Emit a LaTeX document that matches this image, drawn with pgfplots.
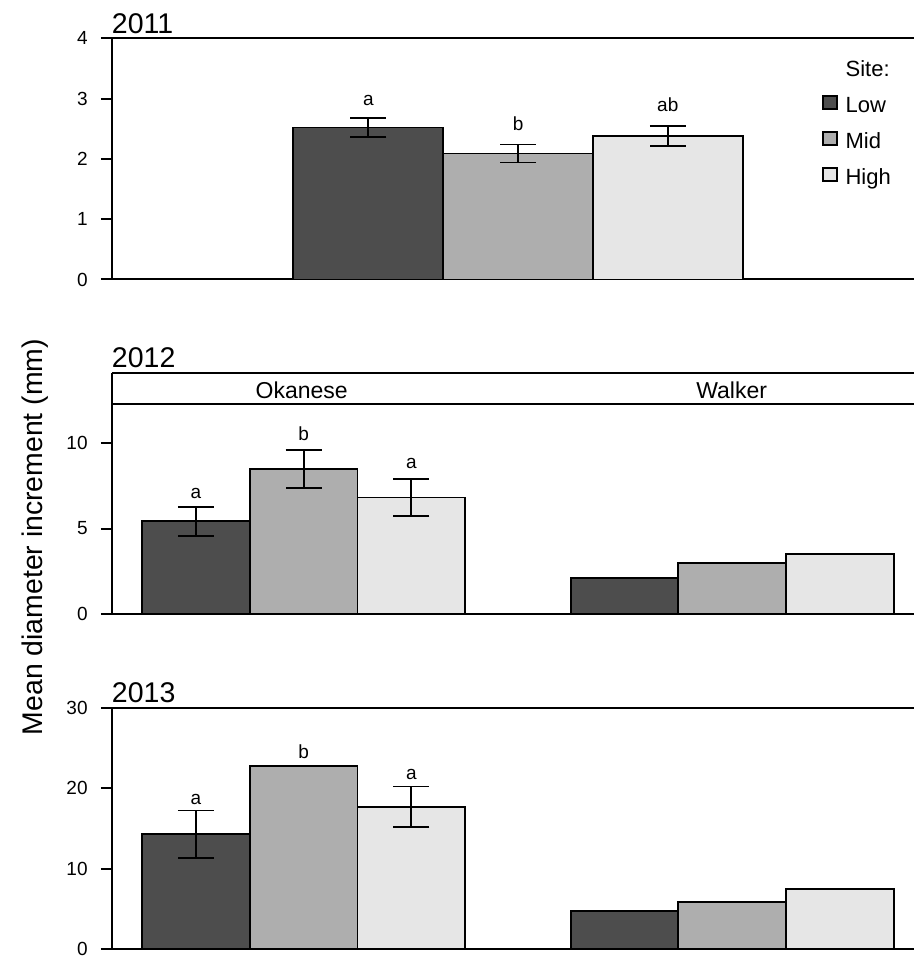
\documentclass[border=0pt]{standalone}
\usepackage{fontspec}
\setmainfont{Liberation Sans}
\usepackage{pgfplots}
\pgfplotsset{compat=1.18}

\definecolor{siteLow}{HTML}{4D4D4D}
\definecolor{siteMid}{HTML}{AEAEAE}
\definecolor{siteHigh}{HTML}{E6E6E6}
\newcommand{\fs}[1]{\fontsize{#1}{#1}\selectfont}

\tikzset{
  sig/.style={font=\fs{9.5}, anchor=base, inner sep=0pt},
  strip/.style={font=\fs{11.5}, anchor=base, inner sep=0pt},
}
\pgfplotsset{
  panel/.style={
    scale only axis, anchor=south west, width=401pt,
    xmin=0, xmax=802, ymin=0, clip=false,
    axis x line=bottom, axis y line=left,
    axis line style={-, line width=1pt},
    every outer x axis line/.append style={-},
    every outer y axis line/.append style={-},
    xtick=\empty, ytick pos=left,
    tick align=outside, major tick length=5.5pt,
    major tick style={line width=1pt, black},
    /pgf/number format/assume math mode=true,
    yticklabel style={font=\fs{9.5}, inner sep=0pt, xshift=-6.5pt},
    ybar, bar shift=0pt,
    every axis plot/.append style={draw=black, line width=0.9pt, forget plot},
  },
  se/.style={
    error bars/.cd, y dir=both, y explicit,
    error bar style={line width=0.9pt, black},
    error mark options={rotate=90, mark size=9pt, line width=0.9pt, black},
  },
  swatch/.style={legend image code/.code={%
      \draw[fill=#1, line width=0.8pt] (0pt,-1.1pt) rectangle (6.8pt,5.55pt);}},
}

\begin{document}
\begin{tikzpicture}
\useasboundingbox (0,0) rectangle (457pt,480pt);

% ---------------- 2011 ----------------
\begin{axis}[panel, at={(56pt,340.25pt)}, height=120.6pt,
  ymax=4, ytick={0,1,2,3,4}, bar width=150,
  legend style={draw=none, fill=none, at={(0.8853,0.910)}, anchor=north west,
    font=\fs{11}, inner sep=0pt, row sep=6.8pt, column sep=4pt,
    nodes={inner sep=0pt, text height=8pt, text depth=2.5pt}},
  legend cell align=left]
\addlegendimage{empty legend}\addlegendentry{Site:}
\addlegendimage{swatch=siteLow}\addlegendentry{Low}
\addlegendimage{swatch=siteMid}\addlegendentry{Mid}
\addlegendimage{swatch=siteHigh}\addlegendentry{High}
\addplot[fill=siteLow, se] coordinates {(256.3,2.52) +- (0,0.155)};
\addplot[fill=siteMid, se] coordinates {(406.1,2.09) +- (0,0.15)};
\addplot[fill=siteHigh, se] coordinates {(555.8,2.38) +- (0,0.17)};
\draw[line width=1pt] (axis cs:0,4) -- (axis cs:802,4);
\node[sig] at (axis cs:256.3,2.89) {a};
\node[sig] at (axis cs:406.1,2.47) {b};
\node[sig] at (axis cs:555.8,2.78) {ab};
\end{axis}

% ---------------- 2012 ----------------
\begin{axis}[panel, at={(56pt,172.85pt)}, height=120.8pt,
  ymax=14.08, ytick={0,5,10}, bar width=107.7]
% Okanese
\addplot[fill=siteLow, se] coordinates {(83.9,5.42) +- (0,0.855)};
\addplot[fill=siteMid, se] coordinates {(191.6,8.45) +- (0,1.11)};
\addplot[fill=siteHigh, se] coordinates {(299.3,6.81) +- (0,1.06)};
% Walker
\addplot[fill=siteLow] coordinates {(512.5,2.12)};
\addplot[fill=siteMid] coordinates {(620.2,2.97)};
\addplot[fill=siteHigh] coordinates {(727.9,3.50)};
\draw[line width=1pt] (axis cs:0,14.08) -- (axis cs:802,14.08);
\draw[line width=1pt] (axis cs:0,12.26) -- (axis cs:802,12.26);
\node[strip] at (axis cs:189.7,12.59) {Okanese};
\node[strip] at (axis cs:619.7,12.59) {Walker};
\node[sig] at (axis cs:83.9,6.76) {a};
\node[sig] at (axis cs:191.6,10.1) {b};
\node[sig] at (axis cs:299.3,8.47) {a};
\end{axis}

% ---------------- 2013 ----------------
\begin{axis}[panel, at={(56pt,5.35pt)}, height=120.65pt,
  ymax=30, ytick={0,10,20,30}, bar width=107.7]
% Okanese
\addplot[fill=siteLow, se] coordinates {(83.9,14.3) +- (0,2.96)};
\addplot[fill=siteMid] coordinates {(191.6,22.76)};
\addplot[fill=siteHigh, se] coordinates {(299.3,17.74) +- (0,2.49)};
% Walker
\addplot[fill=siteLow] coordinates {(512.5,4.76)};
\addplot[fill=siteMid] coordinates {(620.2,5.88)};
\addplot[fill=siteHigh] coordinates {(727.9,7.50)};
\draw[line width=1pt] (axis cs:0,30) -- (axis cs:802,30);
\node[sig] at (axis cs:83.9,17.95) {a};
\node[sig] at (axis cs:191.6,23.76) {b};
\node[sig] at (axis cs:299.3,21.06) {a};
\end{axis}

% panel titles and shared y label
\node[anchor=base west, inner sep=0pt, font=\fs{14.25}] at (55.8pt,463.35pt) {2011};
\node[anchor=base west, inner sep=0pt, font=\fs{14.25}] at (55.8pt,296.35pt) {2012};
\node[anchor=base west, inner sep=0pt, font=\fs{14.25}] at (55.8pt,128.65pt) {2013};
\node[rotate=90, anchor=base, inner sep=0pt, font=\fs{14.2}] at (21pt,211.5pt)
  {Mean diameter increment (mm)};
\end{tikzpicture}
\end{document}
